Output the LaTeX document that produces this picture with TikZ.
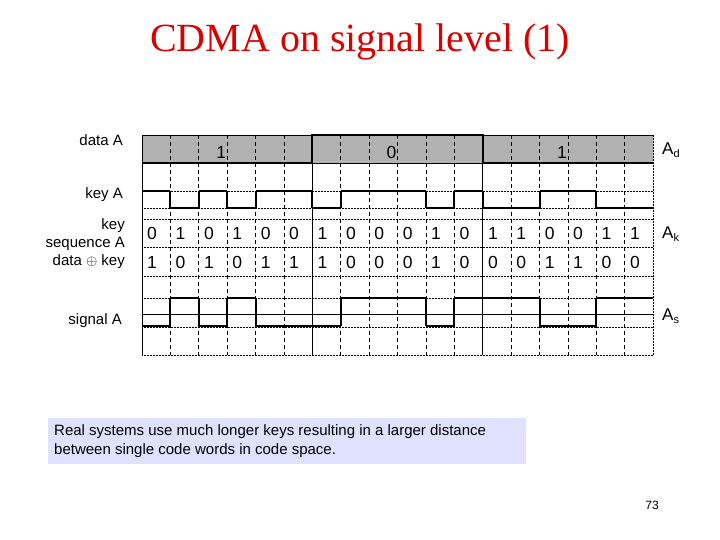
\documentclass[tikz,border=0pt]{standalone}
\usepackage{fontspec}
\setmainfont{Liberation Sans}
\newfontfamily\serif{Liberation Serif}
\begin{document}
\begin{tikzpicture}[x=1pt,y=-1pt,
  lbl/.style={font=\fontsize{15}{17}\selectfont,inner sep=0pt},
  dig/.style={font=\fontsize{17.5}{19}\selectfont,inner sep=0pt},
  wave/.style={line width=2pt},
  grid dotted/.style={densely dotted,line width=0.5pt}]
\useasboundingbox (0,0) rectangle (720,540);
\def\L{142}\def\W{28.4}
\node[text=red!85!black,font=\serif\fontsize{40}{44}\selectfont] (title) at (360,42) {CDMA on signal level (1)};
% grey data box
\fill[gray!60] (\L,135) rectangle (\L+18*\W,163);
% grid horizontals
\foreach \y in {191,208,219,247,276,298,327,355}
  \draw[grid dotted] (\L,\y) -- (\L+18*\W,\y);
\draw[line width=0.6pt] (\L,314) -- (\L+18*\W,314);
\draw[line width=0.6pt] (\L,135) -- (\L+18*\W,135);
\draw[line width=0.6pt] (\L,163) -- (\L+18*\W,163);
% verticals
\foreach \i in {1,...,17}{
  \ifnum\i=6 \draw[line width=0.7pt] (\L+\i*\W,135) -- (\L+\i*\W,355);
  \else\ifnum\i=12 \draw[line width=0.7pt] (\L+\i*\W,135) -- (\L+\i*\W,355);
  \else \draw[dashed,dash pattern=on 4pt off 3pt,line width=0.7pt] (\L+\i*\W,135) -- (\L+\i*\W,355);
  \fi\fi}
\draw[line width=0.7pt] (\L,135) -- (\L,355);
\draw[grid dotted] (\L+18*\W,135) -- (\L+18*\W,355);
% data waveform
\draw[wave] (\L,163) -- (\L+6*\W,163) -- (\L+6*\W,135) -- (\L+12*\W,135) -- (\L+12*\W,163) -- (\L+18*\W,163);
\node[dig] (d1) at (\L+3*\W-6,152) {1};
\node[dig] (d2) at (\L+9*\W-6,152) {0};
\node[dig] (d3) at (\L+15*\W-6,152) {1};
% key (0 high, 1 low) and signal
\def\keyseq{0,1,0,1,0,0,1,0,0,0,1,0,1,1,0,0,1,1}
\def\sigseq{1,0,1,0,1,1,1,0,0,0,1,0,0,0,1,1,0,0}
\foreach \b [count=\n from 0] in \keyseq{
  \pgfmathsetmacro\yy{\b==1 ? 208 : 191}
  \draw[wave] (\L+\n*\W,\yy) -- (\L+\n*\W+\W,\yy);
  \node[dig,anchor=west] at (\L+\n*\W+5,233) {\b};
}
\foreach \b [count=\n from 0] in \sigseq{
  \pgfmathsetmacro\yy{\b==1 ? 326 : 298}
  \draw[wave] (\L+\n*\W,\yy) -- (\L+\n*\W+\W,\yy);
  \node[dig,anchor=west] at (\L+\n*\W+5,262) {\b};
}
\foreach \i in {1,2,3,4,6,7,10,11,12,14,16}
  \draw[wave] (\L+\i*\W,191) -- (\L+\i*\W,208);
\foreach \i in {1,2,3,4,7,10,11,14,16}
  \draw[wave] (\L+\i*\W,298) -- (\L+\i*\W,326);
% left labels
\node[lbl,anchor=east] (la) at (123,140) {data A};
\node[lbl,anchor=east] (lk) at (123,195) {key A};
\node[lbl,anchor=east,align=right] (ls) at (125,244) {key\\[1pt]sequence A\\[1pt]data $\oplus$ key};
\node[lbl,anchor=east] (lsig) at (122,321) {signal A};
% right labels
\node[lbl,anchor=west,font=\fontsize{17}{18}\selectfont] (ad) at (662,150) {A\raisebox{-3pt}{\fontsize{11}{11}\selectfont d}};
\node[lbl,anchor=west,font=\fontsize{17}{18}\selectfont] (ak) at (662,234) {A\raisebox{-3pt}{\fontsize{11}{11}\selectfont k}};
\node[lbl,anchor=west,font=\fontsize{17}{18}\selectfont] (as) at (662,316) {A\raisebox{-3pt}{\fontsize{11}{11}\selectfont s}};
% note box
\fill[blue!12!white] (48,418) rectangle (526,464);
\node[lbl,anchor=west,align=left,font=\fontsize{15}{19}\selectfont] (note) at (54,441) {Real systems use much longer keys resulting in a larger distance\\between single code words in code space.};
\node[lbl,font=\fontsize{12}{13}\selectfont] (pg) at (652,505) {73};
\end{tikzpicture}
\end{document}
